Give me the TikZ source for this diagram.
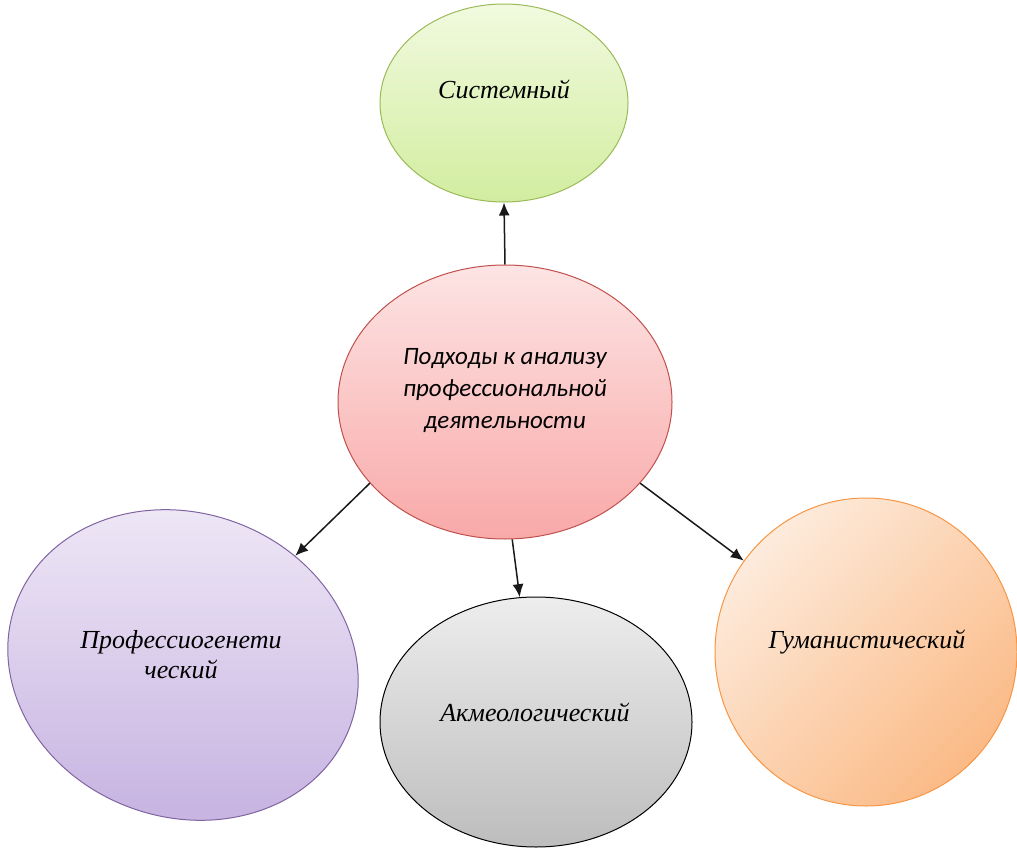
\documentclass[tikz,border=0pt]{standalone}
\usepackage{fontspec}
\setmainfont{Liberation Serif}
\newfontfamily\calib{Carlito}
\usetikzlibrary{shapes.geometric,arrows.meta,shadings}
\definecolor{gTop}{HTML}{F1FADF}
\definecolor{gBot}{HTML}{D2EDA0}
\definecolor{gLine}{HTML}{9BBB59}
\definecolor{rTop}{HTML}{FDE4E4}
\definecolor{rBot}{HTML}{F8A9A8}
\definecolor{rLine}{HTML}{C0504D}
\definecolor{pTop}{HTML}{F0EAF7}
\definecolor{pBot}{HTML}{C8B5E2}
\definecolor{pLine}{HTML}{8064A2}
\definecolor{kTop}{HTML}{EDEDED}
\definecolor{kBot}{HTML}{BDBDBD}
\definecolor{oTop}{HTML}{FDEBDC}
\definecolor{oBot}{HTML}{FBBA86}
\definecolor{oLine}{HTML}{F79646}
\tikzset{
  bubble/.style={ellipse, inner sep=0pt, line width=1pt},
  lbl/.style={font=\itshape\fontsize{26}{30}\selectfont, align=center},
  clbl/.style={font=\calib\itshape\fontsize{25}{32}\selectfont, align=center},
  arr/.style={-{Latex[length=13pt,width=11pt]}, line width=1.5pt, draw=black!90},
}
\begin{document}
\begin{tikzpicture}[x=1pt,y=-1pt]
\useasboundingbox (0,0) rectangle (1017,850);
% nodes
\node[bubble, draw=gLine, top color=gTop, bottom color=gBot,
      minimum width=248pt, minimum height=198pt] (s) at (504,103) {};
\node[lbl] (st) at (504,89) {Системный};

\node[bubble, draw=rLine, top color=rTop, bottom color=rBot,
      minimum width=334pt, minimum height=274pt] (c) at (505,402) {};
\node[clbl] (ct) at (505,391) {Подходы к анализу\\профессиональной\\деятельности};

\node[bubble, draw=pLine, top color=pTop, bottom color=pBot, rotate=-20,
      minimum width=356pt, minimum height=304pt] (p) at (183,665) {};
\node[lbl] (pt) at (181,655) {Профессиогенети\\ческий};

\node[bubble, draw=black, top color=kTop, bottom color=kBot,
      minimum width=312pt, minimum height=250pt] (k) at (536,722) {};
\node[lbl] (kt) at (535,712) {Акмеологический};

\node[bubble, draw=oLine, top color=oTop, bottom color=oBot, shading angle=45,
      minimum width=302pt, minimum height=308pt] (o) at (866,652) {};
\node[lbl] (ot) at (867,642) {Гуманистический};

% connectors
\draw[arr] (c.north) -- (s.south);
\draw[arr] (c.211) -- (p);
\draw[arr] (c.273) -- (k);
\draw[arr] (c.329) -- (o);
\end{tikzpicture}
\end{document}
